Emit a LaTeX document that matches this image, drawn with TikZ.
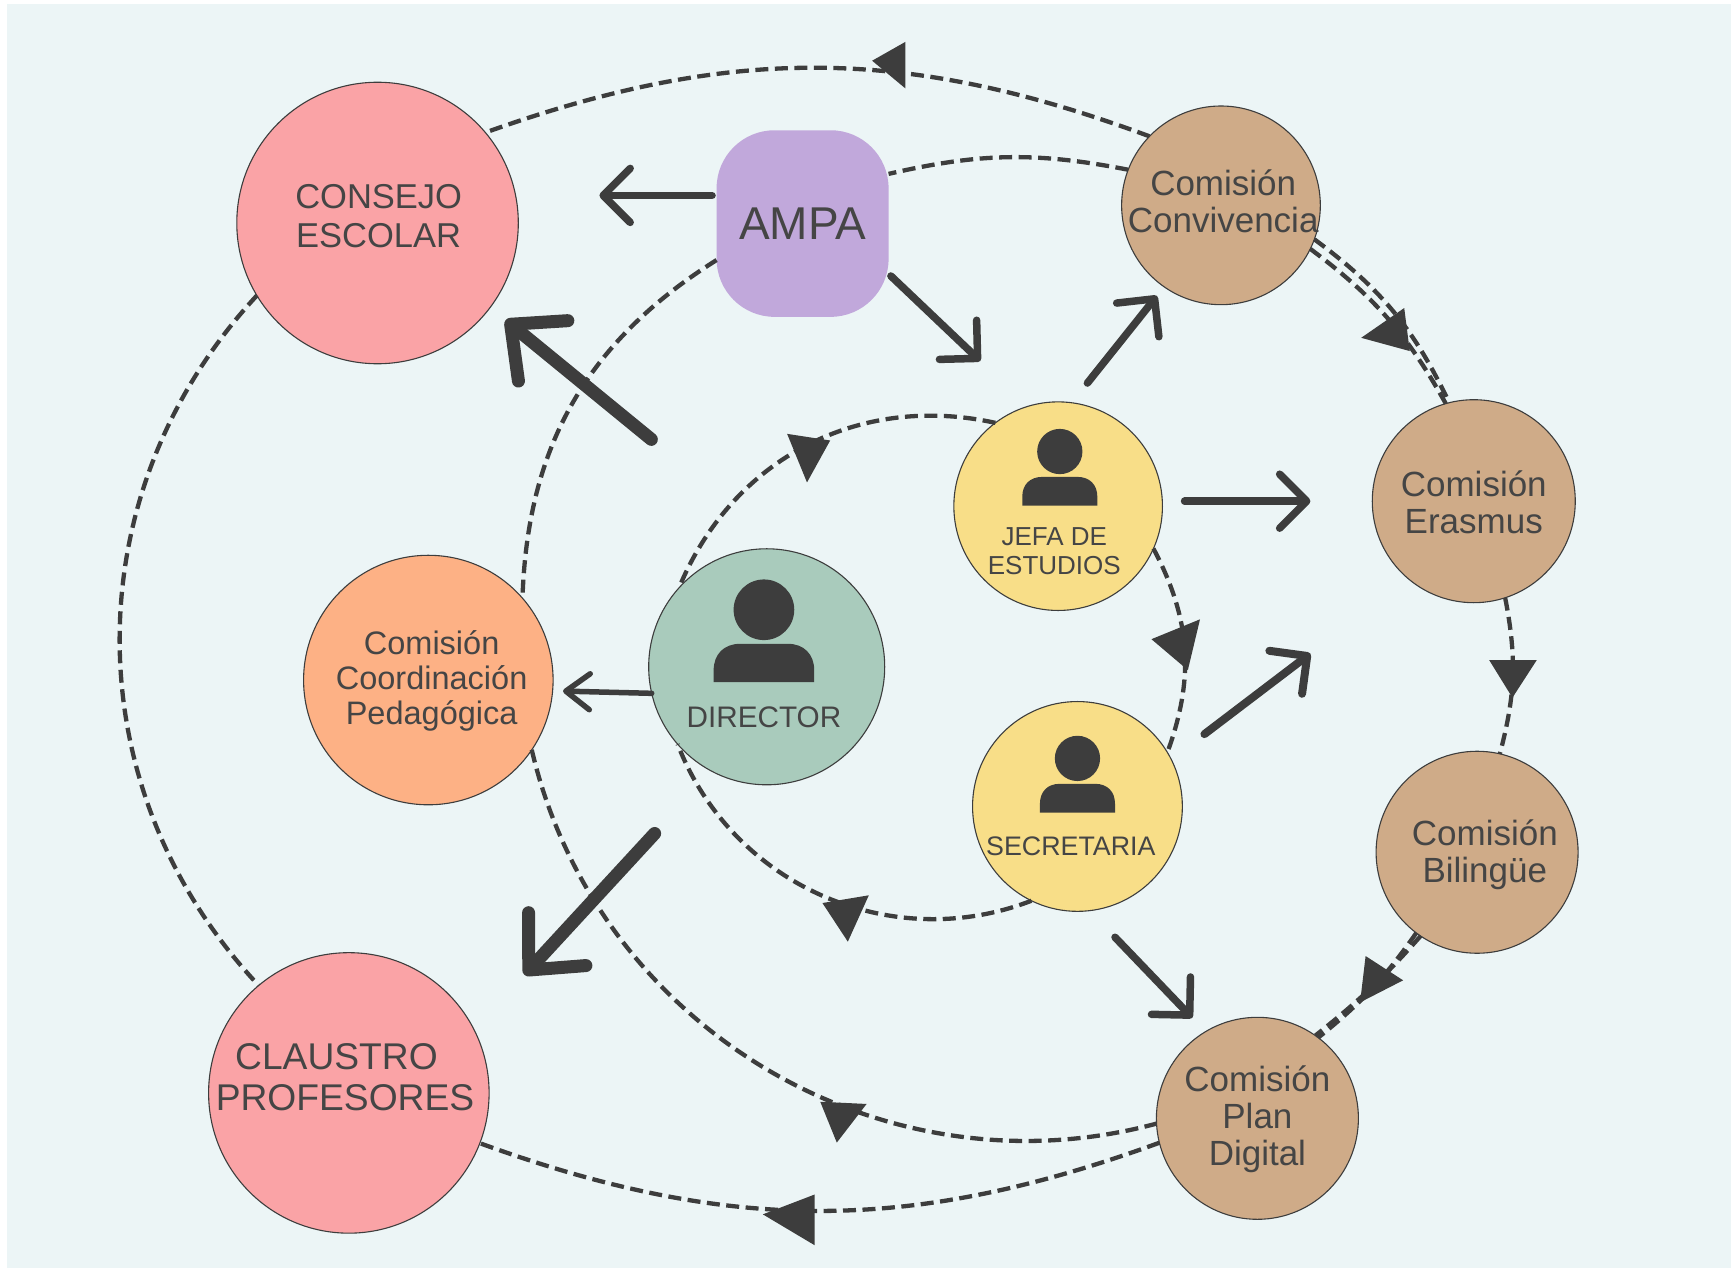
\documentclass[tikz,border=0pt]{standalone}
\usepackage{fontspec}
\setmainfont{Liberation Sans}
\usetikzlibrary{arrows.meta}
\definecolor{bgc}{HTML}{ECF5F6}
\definecolor{dark}{HTML}{3D3D3D}
\definecolor{txt}{HTML}{454545}
\definecolor{pink}{HTML}{FAA3A6}
\definecolor{lilac}{HTML}{C1A8DB}
\definecolor{tan1}{HTML}{CFAB88}
\definecolor{green1}{HTML}{A9CBBC}
\definecolor{yellow1}{HTML}{F8DE88}
\definecolor{orange1}{HTML}{FDB185}
\newcommand{\fsz}[2]{\fontsize{#1}{#2}\selectfont}
\newcommand{\person}[3]{%
  \begin{scope}[shift={(#1,#2)},scale=#3]
    \fill[dark] (0,-49) circle [radius=20.5];
    \fill[dark] (-34,0) -- (-34,-8) .. controls (-34,-19) and (-27,-26) .. (-16,-26)
      -- (16,-26) .. controls (27,-26) and (34,-19) .. (34,-8) -- (34,0) -- cycle;
  \end{scope}}
\newcommand{\tri}[6]{\fill[dark] (#1,#2) -- (#3,#4) -- (#5,#6) -- cycle;}
\tikzset{
  x=1.10395pt,y=-1.10395pt,
  disc/.style={circle,draw=dark,line width=1.1pt,inner sep=0pt,outer sep=0pt,minimum size=#1},
  lab/.style={text=txt,align=center,inner sep=0pt},
  dashline/.style={draw=dark,line width=4.3pt,dash pattern=on 13pt off 6.5pt},
  thinarrow/.style={draw=dark,line width=7.5pt,line cap=round,
    -{Straight Barb[round,length=27pt,width=54pt]}},
  minarrow/.style={draw=dark,line width=5.5pt,line cap=round,
    -{Straight Barb[round,length=24pt,width=36pt]}},
  bigarrow/.style={draw=dark,line width=13pt,line cap=round,
    -{Straight Barb[round,length=42pt,width=78pt]}},
}
\begin{document}
\begin{tikzpicture}
\useasboundingbox (0,0) rectangle (1568,1150.4);
\fill[white] (0,0) rectangle (1568,1150.4);
\fill[bgc] (6.5,3.5) rectangle (1568,1149);

% nodes
\node[disc=281.5pt,fill=pink] (consejo) at (342,202) {};
\node[disc=280.5pt,fill=pink] (claustro) at (316,990) {};
\node[disc=249.5pt,fill=orange1] (coord) at (388,616) {};
\node[disc=236pt,fill=green1] (director) at (694.5,604) {};
\node[disc=208.6pt,fill=yellow1] (jefa) at (958.5,458.5) {};
\node[disc=209.8pt,fill=yellow1] (secre) at (976,730.5) {};
\node[disc=198.7pt,fill=tan1] (conv) at (1106,186) {};
\node[disc=203pt,fill=tan1] (erasmus) at (1335,454) {};
\node[disc=202pt,fill=tan1] (biling) at (1338,772) {};
\node[disc=202pt,fill=tan1] (plan) at (1139,1013) {};
\node[fill=lilac,rounded corners=58pt,minimum width=172pt,minimum height=186.6pt,inner sep=0pt,outer sep=0pt] (ampa) at (727,202.5) {};

% person icons
\person{692}{618}{1.34}
\person{960}{458}{1}
\person{976}{736}{1}

% labels
\node[lab,font=\fsz{34.5}{38.6}] (tconsejo) at (343,195.5) {CONSEJO\\ESCOLAR};
\node[lab,font=\fsz{46}{50}] (tampa) at (727,203) {AMPA};
\node[lab,font=\fsz{35}{37}] (tconv) at (1108,182.5) {Comisión\\Convivencia};
\node[lab,font=\fsz{35}{37}] (teras) at (1335,455) {Comisión\\Erasmus};
\node[lab,font=\fsz{35}{37}] (tbil) at (1345,774.5) {Comisión\\Bilingüe};
\node[lab,font=\fsz{35}{37}] (tplan) at (1139,1014) {Comisión\\Plan\\Digital};
\node[lab,font=\fsz{32.5}{35}] (tcoord) at (391,617) {Comisión\\Coordinación\\Pedagógica};
\node[lab,font=\fsz{29.7}{34}] (tdir) at (692,649.5) {DIRECTOR};
\node[lab,font=\fsz{26}{29}] (tjefa) at (955,499) {JEFA DE\\ESTUDIOS};
\node[lab,font=\fsz{26.8}{29}] (tsecre) at (970,767) {SECRETARIA};
\node[lab,font=\fsz{37.2}{41}] (tclaustro) at (312.5,976) {\hspace*{-17pt}CLAUSTRO\\PROFESORES};

% dashed connectors
\draw[dashline] (conv.136) to[bend right=20] (consejo.40);
\draw[dashline] (consejo.211) to[bend right=43] (claustro.130);
\draw[dashline] (plan.194) to[bend left=20] (claustro.339);
\draw[dashline] (conv.159) to[bend right=12] (ampa.30);
\draw[dashline] (ampa.203) to[bend right=28] (coord.41);
\draw[dashline] (coord.326) to[bend right=46] (plan.183);
\draw[dashline] (jefa.127) to[bend right=40] (director.138);
\draw[dashline] (secre.244) to[bend left=45] (director.221);
\draw[dashline] (jefa.336) to[bend left=24] (secre.31);
\draw[dashline] (conv.334) to[bend left=12] (erasmus.106);
\draw[dashline] (conv.340) to[bend left=14] (erasmus.104);
\draw[dashline] (erasmus.288) to[bend left=13] (biling.77);
\draw[dashline] (biling.233) to[bend left=8] (plan.53);
\draw[dashline] (biling.236) to[bend left=5] (plan.55);

% triangles on the dashed connectors
\tri{820}{38}{790}{55}{820}{80}
\tri{713}{393}{752}{399}{731}{437}
\tri{1043}{579}{1087}{561}{1076}{607}
\tri{745}{818}{787}{811}{768}{853}
\tri{1233}{306}{1272}{279}{1277}{318}
\tri{1349}{598}{1392}{598}{1370}{632}
\tri{1237}{866}{1271}{888}{1232}{908}
\tri{691}{1100}{738}{1082}{738}{1128}
\tri{743}{998}{785}{1000}{758}{1035}

% solid arrows
\coordinate (a1s) at (645,177); \coordinate (a1e) at (543,177);
\coordinate (a2s) at (807,250); \coordinate (a2e) at (888,327);
\coordinate (a3s) at (590,398); \coordinate (a3e) at (458,290);
\coordinate (a4s) at (985,347); \coordinate (a4e) at (1048,268);
\coordinate (a5s) at (1073,454); \coordinate (a5e) at (1187,454);
\coordinate (a6s) at (1091,665); \coordinate (a6e) at (1187,592);
\coordinate (a7e) at (510,626);
\coordinate (a8s) at (593,755); \coordinate (a8e) at (475,883);
\coordinate (a9s) at (1010,849); \coordinate (a9e) at (1080,922);
\draw[thinarrow] (a1s) -- (a1e);
\draw[thinarrow] (a2s) -- (a2e);
\draw[bigarrow] (a3s) -- (a3e);
\draw[thinarrow] (a4s) -- (a4e);
\draw[thinarrow] (a5s) -- (a5e);
\draw[thinarrow,line width=8pt] (a6s) -- (a6e);
\draw[minarrow] (director.193) -- (a7e);
\draw[bigarrow] (a8s) -- (a8e);
\draw[thinarrow] (a9s) -- (a9e);
\end{tikzpicture}
\end{document}
